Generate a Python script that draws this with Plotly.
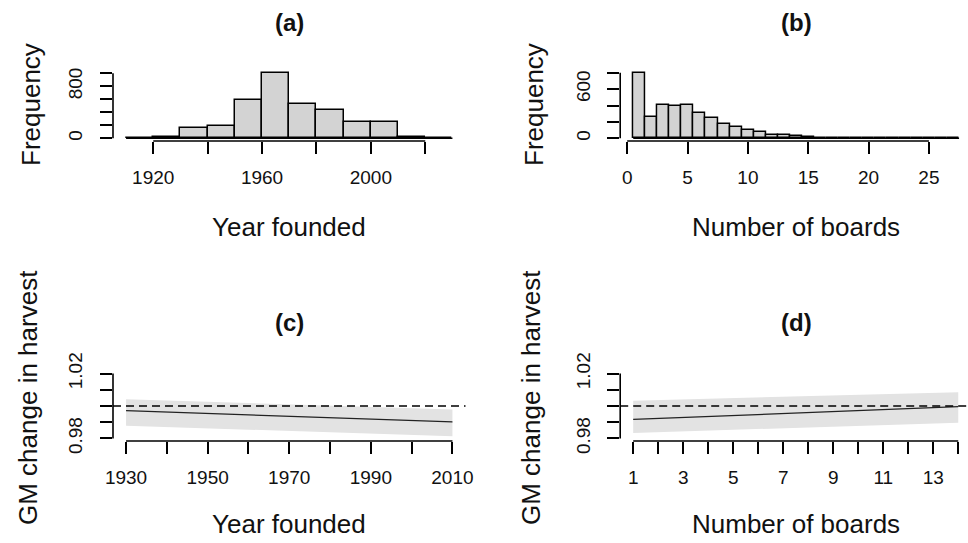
import plotly.graph_objects as go

W, H = 968, 543

# ---------------- data ----------------
# (a) histogram of year founded (10-year bins, left edges)
year_bin_left = [1910, 1920, 1930, 1940, 1950, 1960, 1970, 1980, 1990, 2000, 2010, 2020]
year_bin_width = 10
year_counts = [0, 20, 158, 194, 589, 1010, 523, 435, 246, 246, 20, 0]

# (b) histogram of number of boards (unit bins centred on integers)
board_bins = list(range(1, 28))
board_counts = [800, 264, 412, 394, 412, 313, 245, 173, 135, 105, 72, 39, 39, 26,
                16, 8, 6, 5, 2, 1, 1, 0, 0, 0, 0, 0, 1]
board_bin_width = 1

# (c) GM change in harvest vs year founded
c_years = [1930, 1970, 2010]
c_fit = [0.9971, 0.9938, 0.9902]
c_lower = [0.9878, 0.9846, 0.9814]
c_upper = [1.0042, 1.0010, 0.9979]

# (d) GM change in harvest vs number of boards
d_boards = [1, 7.5, 14]
d_fit = [0.9917, 0.9955, 0.9996]
d_lower = [0.9834, 0.9865, 0.9896]
d_upper = [1.0033, 1.0058, 1.0085]

# tick labels
a_xticks = [1920, 1940, 1960, 1980, 2000, 2020]
a_xlabels = ["1920", "", "1960", "", "2000", ""]
a_yticks = [0, 200, 400, 600, 800, 1000]
a_ylabels = ["0", "", "", "", "800", ""]
b_xticks = [0, 5, 10, 15, 20, 25]
b_xlabels = ["0", "5", "10", "15", "20", "25"]
b_yticks = [0, 200, 400, 600, 800]
b_ylabels = ["0", "", "", "600", ""]
c_xticks = [1930, 1940, 1950, 1960, 1970, 1980, 1990, 2000, 2010]
c_xlabels = ["1930", "", "1950", "", "1970", "", "1990", "", "2010"]
gm_yticks = [0.98, 0.99, 1.00, 1.01, 1.02]
gm_ylabels = ["0.98", "", "", "", "1.02"]
d_xticks = list(range(1, 15))
d_xlabels = [str(v) if v % 2 == 1 else "" for v in d_xticks]

# ---------------- styling ----------------
FONT = "Liberation Sans, Arial, sans-serif"
TXT = "#111111"
BAR_FILL = "#d3d3d3"
BAND = "#e3e3e3"
TICK_SIZE = 19
LAB_SIZE = 26
TITLE_SIZE = 24

left_dom = [113 / W, 465.5 / W]
right_dom = [620.2 / W, 1.0]
top_dom = [(H - 141) / H, (H - 70) / H]
bot_dom = [(H - 441) / H, (H - 371) / H]

fig = go.Figure()

# (a)
a_centers = [l + year_bin_width / 2 for l in year_bin_left]
fig.add_trace(go.Bar(x=a_centers, y=year_counts, width=year_bin_width,
                     marker=dict(color=BAR_FILL, line=dict(color="black", width=1.5)),
                     xaxis="x", yaxis="y", hoverinfo="skip"))
a_edges = [year_bin_left[0], year_bin_left[-1] + year_bin_width]
fig.add_trace(go.Scatter(x=a_edges, y=[0, 0], mode="lines",
                         line=dict(color="black", width=1.5), xaxis="x", yaxis="y"))

# (b)
fig.add_trace(go.Bar(x=board_bins, y=board_counts, width=board_bin_width,
                     marker=dict(color=BAR_FILL, line=dict(color="black", width=1.5)),
                     xaxis="x2", yaxis="y2", hoverinfo="skip"))
b_edges = [board_bins[0] - board_bin_width / 2, board_bins[-1] + board_bin_width / 2]
fig.add_trace(go.Scatter(x=b_edges, y=[0, 0], mode="lines",
                         line=dict(color="black", width=1.5), xaxis="x2", yaxis="y2"))

# (c)
fig.add_trace(go.Scatter(x=c_years + c_years[::-1], y=c_upper + c_lower[::-1],
                         fill="toself", fillcolor=BAND, line=dict(width=0),
                         mode="lines", xaxis="x3", yaxis="y3"))
fig.add_trace(go.Scatter(x=c_years, y=c_fit, mode="lines",
                         line=dict(color="#222222", width=1.3), xaxis="x3", yaxis="y3"))

# (d)
fig.add_trace(go.Scatter(x=d_boards + d_boards[::-1], y=d_upper + d_lower[::-1],
                         fill="toself", fillcolor=BAND, line=dict(width=0),
                         mode="lines", xaxis="x4", yaxis="y4"))
fig.add_trace(go.Scatter(x=d_boards, y=d_fit, mode="lines",
                         line=dict(color="#222222", width=1.3), xaxis="x4", yaxis="y4"))


def xax(domain, rng, vals, texts, anchor):
    return dict(domain=domain, range=rng, tickvals=vals, ticktext=texts,
                ticks="outside", ticklen=12, tickwidth=1.6, tickcolor="black",
                showline=False, showgrid=False, zeroline=False, anchor=anchor,
                automargin=False,
                tickfont=dict(size=TICK_SIZE, color=TXT, family=FONT),
                ticklabelstandoff=7, fixedrange=True)


def yax(domain, rng, vals, texts, anchor):
    return dict(domain=domain, range=rng, tickvals=vals, ticktext=texts,
                ticks="outside", ticklen=12, tickwidth=1.6, tickcolor="black",
                showline=False, showgrid=False, zeroline=False, anchor=anchor,
                automargin=False, tickangle=-90,
                tickfont=dict(size=TICK_SIZE, color=TXT, family=FONT),
                ticklabelstandoff=10, fixedrange=True)


fig.update_layout(
    width=W, height=H, margin=dict(l=0, r=0, t=0, b=0, autoexpand=False),
    paper_bgcolor="white", plot_bgcolor="white", showlegend=False,
    font=dict(family=FONT, color=TXT),
    bargap=0,
    xaxis=xax(left_dom, [1905.2, 2034.8], a_xticks, a_xlabels, "y"),
    yaxis=yax(top_dom, [-40.4, 1050.4], a_yticks, a_ylabels, "x"),
    xaxis2=xax(right_dom, [-0.58, 28.24], b_xticks, b_xlabels, "y2"),
    yaxis2=yax(top_dom, [-32, 832], b_yticks, b_ylabels, "x2"),
    xaxis3=xax(left_dom, [1926.8, 2013.2], c_xticks, c_xlabels, "y3"),
    yaxis3=yax(bot_dom, [0.9784, 1.0216], gm_yticks, gm_ylabels, "x3"),
    xaxis4=xax(right_dom, [0.48, 14.39], d_xticks, d_xlabels, "y4"),
    yaxis4=yax(bot_dom, [0.9784, 1.0216], gm_yticks, gm_ylabels, "x4"),
)

# axis lines spanning first to last tick (R style)
shapes = []
for xa, ya, xt, yt in [("x", "y", a_xticks, a_yticks), ("x2", "y2", b_xticks, b_yticks),
                       ("x3", "y3", c_xticks, gm_yticks), ("x4", "y4", d_xticks, gm_yticks)]:
    shapes.append(dict(type="line", xref=xa, yref=ya + " domain", x0=xt[0], x1=xt[-1],
                       y0=0, y1=0, line=dict(color="black", width=1.6)))
    shapes.append(dict(type="line", xref=xa + " domain", yref=ya, x0=0, x1=0,
                       y0=yt[0], y1=yt[-1], line=dict(color="black", width=1.6)))
# dashed reference line at 1
for xa, ya in [("x3", "y3"), ("x4", "y4")]:
    shapes.append(dict(type="line", xref=xa + " domain", yref=ya, x0=0, x1=1, y0=1, y1=1,
                       line=dict(color="black", width=1.6, dash="8px,5px")))
fig.update_layout(shapes=shapes)


def ann(text, px, py, size, bold=False, angle=0):
    return dict(text=("<b>%s</b>" % text) if bold else text, x=px / W, y=1 - py / H,
                xref="paper", yref="paper", showarrow=False, xanchor="center",
                yanchor="middle", textangle=angle,
                font=dict(size=size, color=TXT, family=FONT))


annotations = [
    ann("(a)", 289, 22, TITLE_SIZE, bold=True),
    ann("(b)", 796, 22, TITLE_SIZE, bold=True),
    ann("(c)", 289, 322, TITLE_SIZE, bold=True),
    ann("(d)", 796, 322, TITLE_SIZE, bold=True),
    ann("Year founded", 289, 227, LAB_SIZE),
    ann("Number of boards", 796, 227, LAB_SIZE),
    ann("Year founded", 289, 524, LAB_SIZE),
    ann("Number of boards", 796, 524, LAB_SIZE),
    ann("Frequency", 31, 105, LAB_SIZE, angle=-90),
    ann("Frequency", 534, 105, LAB_SIZE, angle=-90),
    ann("GM change in harvest", 28, 398, LAB_SIZE, angle=-90),
    ann("GM change in harvest", 531, 398, LAB_SIZE, angle=-90),
]
fig.update_layout(annotations=annotations)

fig.write_html(
    "out.html",
    config={"displayModeBar": False},
    post_script="document.body.style.margin='0';document.body.style.padding='0';"
                "document.body.style.overflow='hidden';",
)
